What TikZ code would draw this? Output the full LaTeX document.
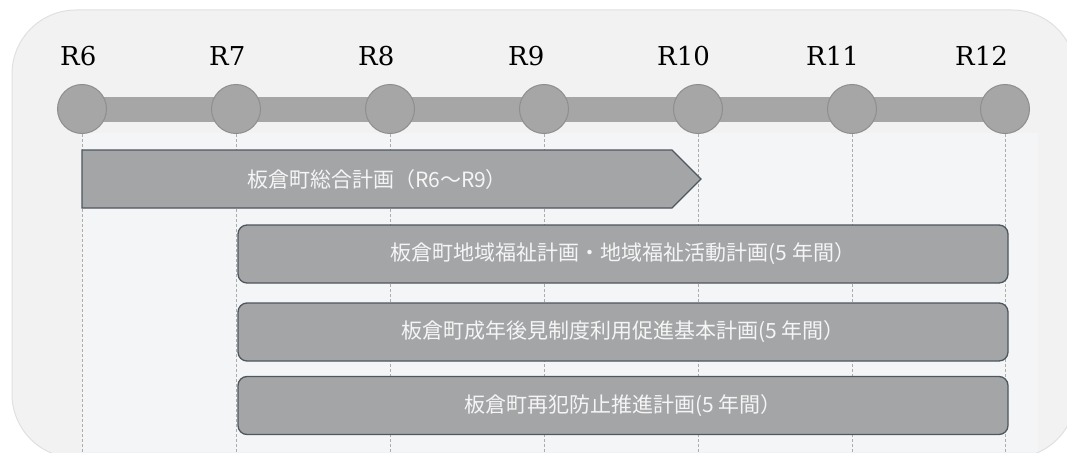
\documentclass[tikz,border=0pt]{standalone}
\usepackage{fontspec}
\newfontfamily\jpfont{Noto Sans CJK JP}
\newfontfamily\seriflbl{DejaVu Serif}
\definecolor{bgc}{HTML}{F2F2F2}
\definecolor{bgedge}{HTML}{E0E0E0}
\definecolor{panelc}{HTML}{F4F5F7}
\definecolor{tlc}{HTML}{A6A6A6}
\definecolor{tledge}{HTML}{8E8E8E}
\definecolor{boxfill}{HTML}{A4A5A7}
\definecolor{boxedge}{HTML}{4E565E}
\definecolor{dashc}{HTML}{ACACAC}
\definecolor{txtc}{HTML}{F5F5F5}
\tikzset{
  yearcirc/.style={circle, fill=tlc, draw=tledge, line width=1pt, minimum size=49pt, inner sep=0pt},
  yearlbl/.style={anchor=base west, inner sep=0pt, text=black, font=\seriflbl\fontsize{26}{30}\selectfont},
  gridline/.style={dashc, dashed, dash pattern=on 3pt off 2pt, line width=0.7pt},
  planbox/.style={rectangle, rounded corners=9pt, fill=boxfill, draw=boxedge, line width=1.3pt,
    minimum width=770pt, minimum height=58pt, inner sep=0pt, text=txtc,
    font=\jpfont\fontsize{21}{25}\selectfont},
  pentbox/.style={fill=boxfill, draw=boxedge, line width=1.3pt},
  penttext/.style={text=txtc, inner sep=0pt, font=\jpfont\fontsize{21}{25}\selectfont}
}
\begin{document}
\begin{tikzpicture}[x=1pt,y=-1pt]
\useasboundingbox (0,0) rectangle (1067,452);
\begin{scope}
  \clip (0,0) rectangle (1067,452);
  \filldraw[fill=bgc, draw=bgedge, line width=1pt, rounded corners=64pt] (12,10) rectangle (1076,458);
  \fill[panelc] (82,133) rectangle (1038,452);
\end{scope}
% timeline coordinates
\foreach \n/\x in {6/82,7/236,8/390,9/544,10/698,11/852,12/1005} {
  \coordinate (p\n) at (\x,109);
  \coordinate (b\n) at (\x,452);
}
\draw[tlc, line width=25pt] (p6) -- (p12);
\foreach \n in {6,...,12} {
  \node[yearcirc] (c\n) at (p\n) {};
  \draw[gridline] (c\n.south) -- (b\n);
}
\foreach \n/\x in {6/60,7/209,8/358,9/508,10/657,11/806,12/955} {
  \node[yearlbl] (l\n) at (\x,65) {R\n};
}
% plan bars
\draw[pentbox] (82,150) -- (672,150) -- (701,179) -- (672,208) -- (82,208) -- cycle;
\node[penttext] (plan1) at (377,180) {板倉町総合計画（R6～R9）};
\node[planbox] (plan2) at (623,254) {板倉町地域福祉計画・地域福祉活動計画(5 年間）};
\node[planbox] (plan3) at (623,332) {板倉町成年後見制度利用促進基本計画(5 年間）};
\node[planbox] (plan4) at (623,405.5) {板倉町再犯防止推進計画(5 年間）};
\end{tikzpicture}
\end{document}
